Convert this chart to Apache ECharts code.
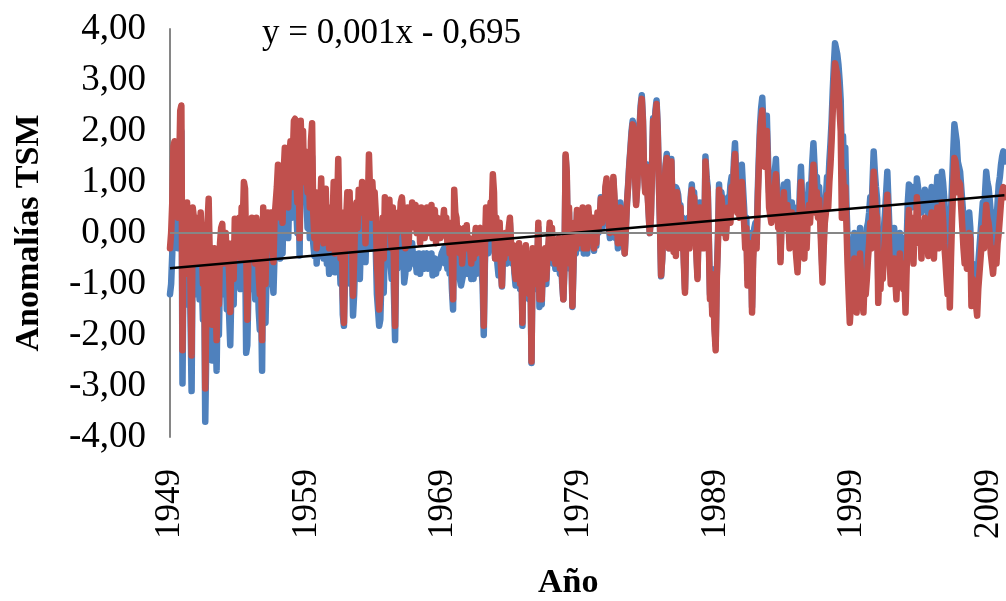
<!DOCTYPE html>
<html><head><meta charset="utf-8">
<script src="https://cdn.jsdelivr.net/npm/echarts/dist/echarts.min.js"></script>
<style>html,body{margin:0;padding:0;background:#fff}#c{width:1006px;height:601px}</style>
</head><body><div id="c"></div>
<script>
// Monthly series, Jan 1949 .. Mar 2010
const startYear = 1949;
const endYear = 2010;
const monthsInLastYear = 3;
const labelYears = ['1949','1959','1969','1979','1989','1999','2009'];
const yTicks = [-4,-3,-2,-1,0,1,2,3,4];
const equationText = 'y = 0,001x - 0,695';
const trendStart = -0.69;
const trendEnd = 0.74;

const serieRed = [
-0.3,0.0,0.6,1.7,1.8,0.8,1.5,0.3,1.2,2.4,2.5,-2.3,
0.3,0.5,-0.8,0.6,-0.5,0.4,-1.0,-2.4,0.5,0.3,-0.6,0.2,
-0.2,0.3,-0.6,0.4,-0.3,-1.0,0.1,-3.05,-1.5,0.2,0.67,-0.5,
-0.4,-1.8,-0.8,-0.3,-1.2,-2.1,-0.5,-1.4,-0.2,0.1,0.18,-0.6,
-0.3,0.0,-0.6,-0.2,-0.8,-1.55,-0.5,-0.2,-0.9,0.28,-0.4,0.1,
-0.2,0.3,-0.5,0.5,0.2,1.0,0.87,-0.3,-1.7,-0.5,0.2,-0.3,
0.3,-0.4,0.2,-0.6,0.3,0.1,-0.8,-1.2,-0.5,-2.1,0.5,-0.7,
-1.0,0.0,0.4,-0.3,0.2,0.4,-0.2,-0.57,0.3,0.6,0.9,1.34,
0.6,0.3,0.9,0.2,1.2,1.67,0.8,1.2,0.5,1.5,1.8,0.9,
1.5,2.2,2.24,1.2,0.6,1.9,-0.1,2.2,1.4,2.0,1.0,1.6,
1.2,0.8,1.4,0.5,1.8,2.15,0.4,-0.1,0.8,-0.3,0.5,0.2,
0.3,1.07,0.2,-0.2,0.4,0.87,-0.1,0.3,-0.3,0.5,0.0,0.28,
1.0,-0.4,0.3,0.5,1.45,0.2,-0.5,0.4,-1.2,-1.76,-0.2,0.3,
0.8,0.5,0.8,-0.3,0.2,-1.23,-0.5,0.4,0.6,0.1,0.85,0.4,
0.6,1.0,0.4,0.7,-0.2,0.9,0.5,1.54,0.8,0.3,1.0,0.6,
0.8,0.4,-0.6,-1.0,-1.5,-1.2,-0.3,0.3,-0.5,0.7,0.1,0.6,
0.2,0.65,0.1,-0.3,0.5,-0.6,-1.82,0.3,0.0,0.4,0.2,0.6,
0.7,0.4,0.0,-0.3,0.2,0.5,-0.2,0.4,0.1,0.6,0.3,0.5,
0.55,0.0,0.3,0.4,-0.2,0.5,0.1,0.45,-0.1,0.2,0.5,0.0,
0.5,0.2,0.55,-0.1,0.3,0.45,-0.2,0.3,0.1,0.28,-0.1,0.0,
0.2,0.45,0.0,0.3,-0.2,0.1,-0.4,0.2,-0.6,-1.3,0.85,0.4,
0.3,-0.2,0.1,-0.4,0.0,-0.6,-0.3,0.1,-0.2,0.15,-0.3,-0.1,
-0.3,-0.6,-0.2,-0.5,-0.1,0.1,-0.4,-0.3,0.0,0.1,-0.2,-0.5,
-1.82,-0.3,0.5,0.2,-0.1,0.3,0.6,0.4,1.15,0.8,-0.5,0.3,
-0.5,-0.3,0.2,-0.6,-1.03,-0.2,-0.5,0.0,-0.4,-0.2,0.1,0.3,
-0.2,-0.5,-0.24,-0.7,-0.9,-0.4,-0.6,-0.2,-1.0,-0.3,-1.76,-0.5,
-0.6,-0.24,-0.9,-0.5,-1.2,-0.4,-2.52,-0.3,-0.8,-0.5,-1.0,-0.6,
0.2,-1.3,-0.6,-1.3,-0.5,-0.8,-0.3,-0.9,-0.4,-0.2,0.2,-0.3,
0.1,-0.5,-0.2,-0.6,-0.3,-0.5,-0.1,-0.7,-0.4,-0.9,-1.3,-0.6,
1.54,1.2,-0.2,0.5,-0.6,-0.1,-1.43,-0.5,0.2,-0.3,0.45,0.1,
-0.2,0.3,0.0,0.5,-0.3,0.4,0.1,-0.3,0.5,0.2,0.3,-0.1,
0.3,-0.3,0.2,-0.2,0.4,0.1,0.3,0.67,0.2,0.5,0.3,0.9,
1.07,0.6,0.2,0.0,0.8,0.4,1.1,0.7,0.0,0.3,-0.2,0.1,
0.5,0.2,-0.2,0.0,-0.4,0.1,0.6,0.9,1.3,1.6,1.9,2.13,
2.0,1.2,0.55,0.9,1.5,2.0,2.4,2.63,2.2,1.2,0.8,1.3,
0.8,0.4,0.0,0.3,1.2,2.2,1.8,2.3,2.53,2.0,1.0,0.2,
-0.83,-0.5,0.2,0.9,1.3,1.47,0.6,-0.3,0.8,1.4,0.5,-0.37,
0.7,-0.45,0.8,0.55,0.3,0.5,-0.3,0.2,-0.6,-1.17,-0.2,0.1,
0.2,-0.3,0.6,0.85,0.5,0.7,0.3,-0.4,-0.9,0.1,0.5,0.3,
-0.3,0.4,-0.3,1.4,1.0,0.8,-0.2,-1.3,-0.8,-1.6,-1.2,-1.9,
-2.3,-0.9,-0.2,0.85,0.3,0.7,0.5,0.0,0.4,-0.1,0.3,0.5,
0.3,0.2,0.9,0.5,1.2,1.55,1.0,0.4,0.7,0.3,0.8,1.0,
0.6,0.2,-0.3,0.1,-1.03,-0.4,-0.8,-0.2,-1.56,-0.5,-0.1,0.0,
-0.3,0.6,1.3,1.9,2.2,2.4,1.8,1.3,1.47,2.0,1.2,0.5,
0.5,0.2,0.7,0.4,0.9,1.15,0.6,0.1,0.4,-0.57,0.2,0.5,
0.8,0.3,0.1,0.55,0.2,-0.3,-0.1,0.4,0.0,0.35,-0.2,-0.5,
-0.77,-0.2,0.5,1.0,0.4,-0.1,-0.5,0.1,-0.3,0.3,0.55,0.2,
0.6,1.0,1.34,0.9,0.4,0.8,0.3,0.65,0.2,-0.4,-0.97,-0.3,
0.2,0.4,0.75,0.5,1.0,1.34,1.8,2.4,2.9,3.33,3.3,3.1,
2.8,2.4,2.0,0.3,1.2,0.6,0.9,0.2,-0.6,-1.2,-1.76,-1.4,
-0.6,-0.97,-0.5,-1.2,-1.56,-0.8,-1.1,-0.4,-0.9,-1.3,-1.56,-0.9,
-1.2,-0.9,-0.5,-0.2,0.2,-0.3,0.6,1.2,0.8,0.4,0.3,-1.37,
-0.8,-1.1,-0.5,-0.9,-0.4,-0.1,0.3,0.75,0.1,-0.5,-1.0,-0.6,
-0.8,-0.5,-0.9,-1.3,-0.7,-1.0,-0.4,-0.9,-0.6,-1.1,-0.8,-1.56,
-0.7,0.0,0.45,0.1,-0.3,0.3,-0.6,0.2,-0.2,0.7,0.3,-0.1,
0.2,-0.5,0.0,-0.3,0.3,-0.1,0.2,-0.45,-0.1,0.2,0.4,0.0,
-0.5,0.2,0.0,0.5,-0.3,0.3,0.1,0.6,0.3,-0.2,-0.5,-0.87,
-1.2,-0.6,-1.46,-0.5,0.3,0.9,1.47,1.4,1.2,0.8,1.0,0.95,
0.5,0.1,-0.3,-0.6,-0.2,-0.7,-0.4,0.0,-0.1,-1.43,-0.9,-1.2,
-1.0,-1.4,-1.62,-1.1,-0.8,-0.5,-0.2,0.1,-0.3,0.2,0.55,0.3,
0.2,0.0,-0.4,-0.6,-0.8,-0.5,-0.3,-0.6,-0.2,0.0,0.3,0.6,
0.8,0.9,0.7
];

const serieBlue = [
-1.2,-1.0,-0.4,1.2,1.4,0.2,1.0,-0.3,0.8,1.9,2.0,-2.95,
-0.3,-0.2,-1.4,0.0,-1.1,-0.2,-1.6,-3.1,-0.1,-0.4,-1.2,-0.4,
-0.9,-0.4,-1.3,-0.3,-1.0,-1.7,-0.6,-3.7,-2.2,-0.4,0.0,-1.1,
-1.0,-2.5,-1.5,-0.9,-1.8,-2.7,-1.1,-2.0,-0.8,-0.5,-0.3,-1.2,
-1.2,-0.7,-1.5,-1.0,-1.6,-2.2,-1.1,-0.8,-1.4,-0.3,-1.0,-0.5,
-0.8,-0.2,-1.1,-0.1,-0.4,0.3,0.0,-2.35,-2.2,-1.1,-0.4,-1.0,
-0.4,-1.1,-0.5,-1.3,-0.4,-0.6,-1.5,-1.9,-1.2,-2.7,-0.3,-1.4,
-1.76,-0.7,-0.2,-1.0,-0.5,-0.3,-0.9,-1.17,-0.4,-0.1,0.2,0.6,
0.0,-0.5,0.3,-0.4,0.6,1.0,0.2,0.6,-0.1,0.9,0.67,0.3,
1.0,1.4,1.6,0.5,0.0,1.2,-0.44,1.5,0.8,1.3,1.2,0.9,
0.7,0.1,0.8,-0.1,1.2,1.5,-0.2,-0.45,0.1,-0.6,-0.1,-0.3,
-0.3,0.5,-0.4,-0.5,-0.2,0.3,-0.6,-0.3,-0.8,-0.1,-0.6,-0.4,
0.3,-0.77,-0.3,-0.2,0.8,-0.4,-1.0,-0.3,-1.6,-1.82,-0.8,-0.4,
-0.8,-0.4,0.0,-1.0,-0.6,-1.62,-1.2,-0.4,-0.3,-0.8,0.0,-0.9,
-0.1,0.3,-0.3,0.0,-0.57,0.3,-0.2,0.9,0.1,-0.3,0.2,0.0,
0.0,-0.3,-1.2,-1.5,-1.82,-1.7,-0.9,-0.5,-1.17,-0.2,-0.6,-0.1,
-0.4,0.0,-0.6,-0.9,-0.2,-1.2,-2.1,-0.4,-0.7,-0.2,-0.5,-0.1,
0.1,-0.3,-0.97,-0.8,-0.4,-0.1,-0.7,-0.6,-0.5,-0.2,-0.6,-0.4,
-0.5,-0.77,-0.6,-0.4,-0.8,-0.5,-0.7,-0.4,-0.7,-0.5,-0.4,-0.7,
-0.5,-0.7,-0.4,-0.83,-0.6,-0.5,-0.8,-0.6,-0.7,-0.6,-0.5,-0.4,
-0.4,-0.3,-0.6,-0.4,-0.7,-0.5,-0.8,-0.5,-1.1,-1.5,0.2,-0.3,
-0.4,-0.7,-0.6,-0.9,-1.03,-1.0,-0.8,-0.5,-0.7,-0.4,-0.8,-0.6,
-0.7,-0.9,-0.8,-0.9,-0.6,-0.5,-0.8,-0.7,-0.6,-0.5,-0.7,-1.0,
-2.0,-0.6,0.0,-0.3,-0.4,-0.2,0.1,-0.1,0.7,0.4,-0.5,-0.1,
-0.6,-0.83,-0.2,-0.7,-1.05,-0.4,-0.6,-0.2,-0.6,-0.4,-0.1,0.2,
-0.3,-0.6,-0.35,-0.8,-1.03,-0.5,-0.7,-0.3,-1.1,-0.4,-1.82,-0.6,
-0.7,-0.3,-1.0,-0.6,-1.3,-0.5,-2.55,-0.4,-0.9,-0.6,-1.1,-0.7,
0.1,-1.45,-0.7,-1.4,-0.6,-1.0,-0.4,-1.0,-0.5,-0.3,0.1,-0.4,
0.0,-0.6,-0.3,-0.7,-0.4,-0.6,-0.2,-0.8,-0.5,-1.0,-1.3,-0.7,
1.5,1.1,-0.3,0.4,-0.7,-0.2,-1.45,-0.6,0.1,-0.4,0.4,0.0,
-0.3,0.2,-0.1,0.4,-0.4,0.3,0.0,-0.4,0.4,0.1,0.2,-0.2,
0.2,-0.35,0.1,-0.25,0.3,0.0,0.2,0.7,0.1,0.4,0.2,0.85,
1.0,0.5,0.1,-0.1,0.7,0.3,1.05,0.6,-0.1,0.2,-0.3,0.0,
0.6,0.3,-0.2,0.0,-0.4,0.1,0.6,0.95,1.35,1.65,2.0,2.2,
2.1,1.25,0.6,0.95,1.55,2.05,2.5,2.7,2.25,1.25,0.85,1.35,
0.85,0.45,0.0,0.35,1.3,2.25,1.9,2.4,2.6,2.1,1.05,0.2,
-0.85,-0.5,0.25,1.0,1.35,1.55,0.7,-0.3,0.85,1.45,0.55,-0.3,
0.85,0.9,0.85,0.75,0.5,0.55,0.0,0.3,-0.5,-1.1,-0.1,0.15,
0.3,-0.2,0.7,0.95,0.6,0.8,0.4,-0.3,-0.85,0.2,0.6,0.4,
-0.25,0.5,-0.2,1.5,1.1,0.9,-0.1,-1.2,-0.7,-1.5,-1.1,-1.8,
-2.2,-0.8,-0.1,0.95,0.4,0.8,0.6,0.1,0.5,0.0,0.4,0.7,
0.6,0.95,1.1,0.8,1.4,1.76,1.2,0.7,0.9,0.6,1.1,1.34,
0.9,0.5,0.0,0.3,-0.9,-0.2,-0.6,0.0,-1.45,-0.3,0.1,0.2,
-0.2,0.8,1.5,2.1,2.45,2.65,2.1,1.6,1.7,2.3,1.5,0.8,
0.8,0.6,1.0,0.8,1.2,1.45,0.9,0.4,0.6,-0.5,0.4,0.7,
0.95,0.6,0.4,1.0,0.5,0.0,0.1,0.6,0.2,0.5,0.0,-0.3,
-0.6,0.0,0.8,1.3,0.7,0.2,-0.3,0.4,0.0,0.6,0.95,0.5,
0.9,1.4,1.76,1.3,0.8,1.1,0.6,0.9,0.4,-0.2,-0.8,-0.1,
0.5,0.7,1.1,0.9,1.4,1.76,2.2,2.8,3.3,3.72,3.7,3.5,
3.3,3.0,2.6,1.4,1.9,1.2,1.67,0.6,-0.1,-0.6,-1.2,-0.8,
-0.3,-0.24,0.0,-0.7,-1.0,-0.3,-0.5,0.1,-0.3,-0.8,-1.0,-0.4,
-0.5,0.1,0.2,0.4,0.7,0.3,1.0,1.6,1.2,0.9,0.67,-0.9,
-0.3,-0.6,0.0,-0.4,0.1,0.4,0.8,1.2,0.6,0.0,-0.5,-0.2,
-0.3,0.1,-0.3,-0.8,-0.2,-0.5,0.0,-0.4,-0.1,-0.6,-0.3,-1.0,
-0.2,0.6,0.95,0.8,0.5,0.9,0.6,0.8,0.5,1.07,0.9,0.6,
0.7,0.4,0.6,0.5,0.85,0.6,0.7,0.3,0.5,0.7,0.9,0.6,
0.3,0.8,0.7,1.1,0.6,0.9,0.8,1.2,1.0,0.7,0.3,0.1,
-0.5,0.2,-0.6,0.4,1.0,1.6,2.13,2.1,1.8,1.4,1.3,1.2,
0.9,0.6,0.3,-0.1,0.2,-0.3,0.0,0.4,0.1,-0.8,-0.6,-0.9,
-0.7,-0.9,-1.1,-0.6,-0.3,0.0,0.3,0.6,0.4,0.8,1.2,1.0,
0.9,0.67,0.4,0.1,-0.2,0.2,0.4,0.2,0.6,0.95,1.1,1.34,
1.5,1.6,1.4
];

// month categories labelled by year
const categories = [];
for (let y = startYear; y <= endYear; y++) {
  const n = (y === endYear) ? monthsInLastYear : 12;
  for (let m = 0; m < n; m++) categories.push(String(y));
}
const lastIdx = categories.length - 1;

const FONT = '"Liberation Serif","Times New Roman",serif';
const chart = echarts.init(document.getElementById('c'), null, {renderer: 'canvas'});
const gridLeft = 170, gridTop = 29, gridHeight = 408;
const gridWidth = lastIdx * 1.14;

chart.setOption({
  animation: false,
  backgroundColor: '#ffffff',
  grid: {left: gridLeft, top: gridTop, height: gridHeight, width: gridWidth, containLabel: false},
  xAxis: {
    type: 'category', data: categories, boundaryGap: false,
    axisLine: {show: false, onZero: false}, axisTick: {show: false},
    axisLabel: {
      interval: 119, rotate: 90, margin: 32,
      fontFamily: FONT, fontSize: 35, color: '#000',
      formatter: v => labelYears.indexOf(v) >= 0 ? v : ''
    },
    splitLine: {show: false}
  },
  yAxis: {
    type: 'value', min: yTicks[0], max: yTicks[yTicks.length-1], interval: 1,
    axisLine: {show: true, lineStyle: {color: '#868686', width: 2}},
    axisTick: {show: false}, splitLine: {show: false},
    axisLabel: {
      margin: 24, fontFamily: FONT, fontSize: 37, color: '#000',
      formatter: v => v.toFixed(2).replace('.', ',')
    },
    name: 'Anomalías TSM', nameLocation: 'middle', nameRotate: 90, nameGap: 124,
    nameTextStyle: {fontFamily: FONT, fontSize: 34, fontWeight: 'bold', color: '#000'}
  },
  graphic: [
    {type: 'text', left: 262, top: 16, style: {text: equationText, font: '35px ' + FONT, fill: '#000'}},
    {type: 'text', left: 538, top: 566, style: {text: 'Año', font: 'bold 34px ' + FONT, fill: '#000'}}
  ],
  series: [
    {type: 'line', data: [], z: 1, silent: true,
     markLine: {silent: true, symbol: ['none','none'], label: {show: false},
       lineStyle: {color: '#868686', width: 2, type: 'solid'}, data: [{yAxis: 0}]}},
    {type: 'line', name: 'azul', data: serieBlue, showSymbol: false, z: 2,
     lineStyle: {color: '#4F81BD', width: 6.5, join: 'round', cap: 'round'}},
    {type: 'line', name: 'rojo', data: serieRed, showSymbol: false, z: 3,
     lineStyle: {color: '#C0504D', width: 6.5, join: 'round', cap: 'round'}},
    {type: 'line', name: 'tendencia', data: [[0, trendStart], [lastIdx, trendEnd]], showSymbol: false, z: 4,
     lineStyle: {color: '#000', width: 2.5}}
  ]
});
</script></body></html>
